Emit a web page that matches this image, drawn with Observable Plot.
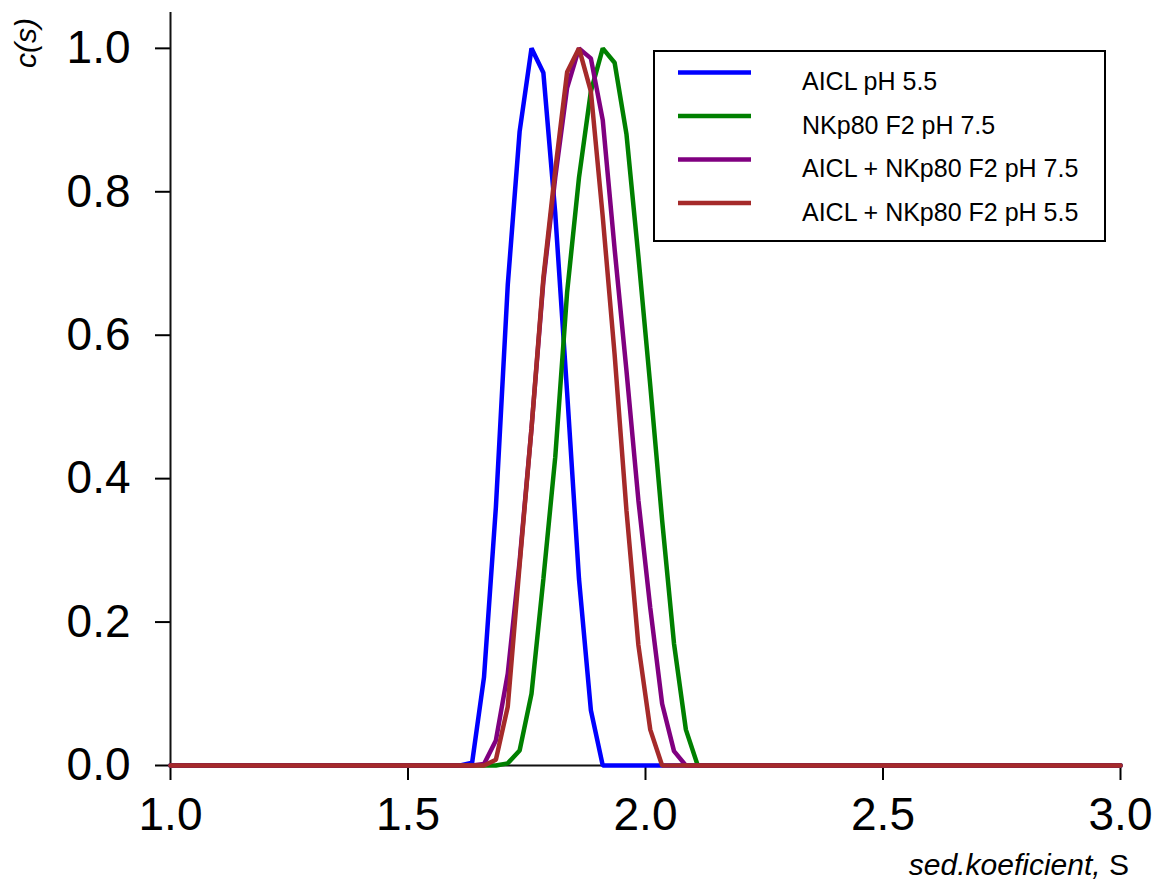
<!DOCTYPE html>
<html>
<head>
<meta charset="utf-8">
<script src="https://cdn.jsdelivr.net/npm/d3@7"></script>
<script src="https://cdn.jsdelivr.net/npm/@observablehq/plot@0.6"></script>
<style>
  body { margin: 0; background: #fff; }
  #chart { width: 1157px; height: 881px; }
</style>
</head>
<body>
<div id="chart"></div>
<script>
// sedimentation coefficient grid (S)
const sedCoef = [1.0, 1.61, 1.635, 1.66, 1.685, 1.71, 1.735, 1.76, 1.785, 1.81, 1.835, 1.86, 1.885,
                 1.91, 1.935, 1.96, 1.985, 2.01, 2.035, 2.06, 2.085, 2.11, 2.135, 3.0];

const seriesNames = ["AICL pH 5.5", "NKp80 F2 pH 7.5", "AICL + NKp80 F2 pH 7.5", "AICL + NKp80 F2 pH 5.5"];
const seriesColors = ["#0000ff", "#008000", "#800080", "#a52a2a"];

const aiclPH55     = [0, 0, 0.004, 0.123, 0.36, 0.67, 0.884, 1.0, 0.966, 0.77, 0.52, 0.26, 0.077,
                      0, 0, 0, 0, 0, 0, 0, 0, 0, 0, 0];
const nkp80PH75    = [0, 0, 0, 0, 0, 0.003, 0.021, 0.10, 0.26, 0.43, 0.66, 0.82, 0.94,
                      1.0, 0.98, 0.88, 0.71, 0.53, 0.342, 0.17, 0.05, 0, 0, 0];
const complexPH75  = [0, 0, 0, 0.002, 0.035, 0.128, 0.285, 0.47, 0.675, 0.82, 0.945, 1.0, 0.986,
                      0.90, 0.72, 0.55, 0.37, 0.22, 0.086, 0.02, 0, 0, 0, 0];
const complexPH55  = [0, 0, 0, 0, 0.008, 0.082, 0.28, 0.47, 0.68, 0.83, 0.967, 1.0, 0.94,
                      0.765, 0.573, 0.355, 0.168, 0.05, 0, 0, 0, 0, 0, 0];

const xTicks = [1.0, 1.5, 2.0, 2.5, 3.0];
const yTicks = [0.0, 0.2, 0.4, 0.6, 0.8, 1.0];

const allSeries = [aiclPH55, nkp80PH75, complexPH75, complexPH55];
const rows = [];
allSeries.forEach((vals, i) => vals.forEach((c, j) => rows.push({s: sedCoef[j], c, series: seriesNames[i]})));

const font = "'Liberation Sans', Arial, sans-serif";
const fmt = d3.format(".1f");

const plot = Plot.plot({
  width: 1157,
  height: 881,
  marginLeft: 170,
  marginRight: 37,
  marginTop: 12,
  marginBottom: 116,
  style: {fontFamily: font, background: "white", color: "black"},
  x: {domain: [1, 3]},
  y: {domain: [0, 1.05]},
  color: {domain: seriesNames, range: seriesColors},
  marks: [
    Plot.axisX({ticks: xTicks, tickFormat: fmt, tickSize: 15, tickPadding: 17, fontSize: 46, label: null, strokeWidth: 2}),
    Plot.axisY({ticks: yTicks, tickFormat: fmt, tickSize: 15, tickPadding: 25, fontSize: 46, label: null, strokeWidth: 2}),
    Plot.ruleX([1], {stroke: "#111", strokeWidth: 2}),
    Plot.ruleY([0], {stroke: "#111", strokeWidth: 2}),
    Plot.line(rows, {x: "s", y: "c", z: "series", stroke: "series", strokeWidth: 4.5, strokeLinejoin: "miter"})
  ]
});

document.getElementById("chart").appendChild(plot);

const svg = d3.select(plot);

// y axis label
svg.append("text")
  .attr("transform", "translate(36,43) rotate(-90)")
  .attr("text-anchor", "middle")
  .attr("font-family", font)
  .attr("font-size", 30)
  .attr("font-style", "italic")
  .attr("fill", "black")
  .text("c(s)");

// x axis label
const xl = svg.append("text")
  .attr("x", 1129).attr("y", 875)
  .attr("text-anchor", "end")
  .attr("font-family", font)
  .attr("font-size", 30)
  .attr("fill", "black");
xl.append("tspan").attr("font-style", "italic").text("sed.koeficient,");
xl.append("tspan").text(" S");

// legend
const lg = svg.append("g").attr("text-anchor", "start");
lg.append("rect")
  .attr("x", 654).attr("y", 51).attr("width", 451).attr("height", 190)
  .attr("fill", "white").attr("stroke", "black").attr("stroke-width", 2);
seriesNames.forEach((name, i) => {
  const y = 72.5 + i * 43.5;
  lg.append("line")
    .attr("x1", 678).attr("x2", 751).attr("y1", y).attr("y2", y)
    .attr("stroke", seriesColors[i]).attr("stroke-width", 4.5);
  lg.append("text")
    .attr("x", 802).attr("y", y + 17.5)
    .attr("text-anchor", "start")
    .attr("font-family", font).attr("font-size", 25).attr("fill", "black")
    .text(name);
});
</script>
</body>
</html>
